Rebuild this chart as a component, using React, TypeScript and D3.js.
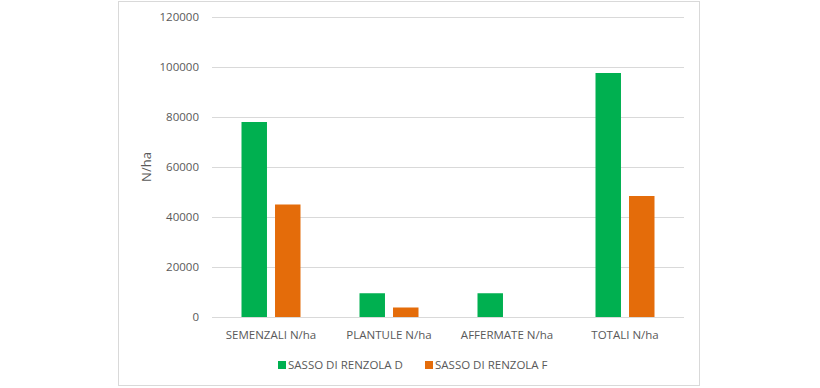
import { useEffect, useRef } from 'react';
import * as d3 from 'd3';

const categories = ['SEMENZALI N/ha', 'PLANTULE N/ha', 'AFFERMATE N/ha', 'TOTALI N/ha'];
const seriesNames = ['SASSO DI RENZOLA D', 'SASSO DI RENZOLA F'];
const seriesD = [78000, 9500, 9500, 97600];
const seriesF = [45000, 3800, 0, 48400];
const seriesColors = ['#00B050', '#E46C0A'];
const yTicks = [0, 20000, 40000, 60000, 80000, 100000, 120000];

export default function App() {
  const svgRef = useRef<SVGSVGElement>(null);

  useEffect(() => {
    if (!svgRef.current) return;
    const svg = d3.select(svgRef.current);
    svg.selectAll('*').remove();

    const width = 820;
    const height = 388;
    const font = '"Open Sans", "Noto Sans", sans-serif';
    const textColor = '#595959';

    // chart frame
    svg.append('rect')
      .attr('x', 118.5).attr('y', 1.5)
      .attr('width', 581).attr('height', 384)
      .attr('fill', '#fff').attr('stroke', '#D9D9D9');

    const plot = { left: 212, right: 684, top: 17, bottom: 317 };

    const y = d3.scaleLinear().domain([0, 120000]).range([plot.bottom, plot.top]);
    const x0 = d3.scaleBand<string>().domain(categories).range([plot.left, plot.right]).paddingInner(0).paddingOuter(0);
    const x1 = d3.scaleBand<number>().domain([0, 1]).range([0, 59]).paddingInner(0.24);

    // gridlines
    svg.append('g').selectAll('line')
      .data(yTicks)
      .enter().append('line')
      .attr('x1', plot.left).attr('x2', plot.right)
      .attr('y1', d => Math.round(y(d)) + 0.5).attr('y2', d => Math.round(y(d)) + 0.5)
      .attr('stroke', '#D9D9D9').attr('stroke-width', 1);

    // y tick labels
    svg.append('g').selectAll('text')
      .data(yTicks)
      .enter().append('text')
      .attr('x', 199).attr('y', d => y(d))
      .attr('dy', '0.35em')
      .attr('text-anchor', 'end')
      .attr('fill', textColor)
      .style('font-family', font).style('font-size', '11.5px')
      .text(d => d3.format('d')(d));

    // y axis title
    svg.append('text')
      .attr('transform', `translate(151,167) rotate(-90)`)
      .attr('text-anchor', 'middle')
      .attr('fill', textColor)
      .style('font-family', font).style('font-size', '13px')
      .text('N/ha');

    // bars
    const allSeries = [seriesD, seriesF];
    const groups = svg.append('g').selectAll('g')
      .data(categories)
      .enter().append('g')
      .attr('transform', d => `translate(${(x0(d) as number) + (x0.bandwidth() - 59) / 2},0)`);

    groups.selectAll('rect')
      .data((_, i) => allSeries.map((s, k) => ({ k, v: s[i] })))
      .enter().append('rect')
      .attr('x', d => x1(d.k) as number)
      .attr('width', x1.bandwidth())
      .attr('y', d => y(d.v))
      .attr('height', d => plot.bottom - y(d.v))
      .attr('fill', d => seriesColors[d.k]);

    // category labels
    svg.append('g').selectAll('text')
      .data(categories)
      .enter().append('text')
      .attr('x', d => (x0(d) as number) + x0.bandwidth() / 2)
      .attr('y', 335)
      .attr('dy', '0.35em')
      .attr('text-anchor', 'middle')
      .attr('fill', textColor)
      .style('font-family', font).style('font-size', '11.5px')
      .text(d => d);

    // legend
    const legendX = [278, 425];
    const legend = svg.append('g').selectAll('g')
      .data(seriesNames)
      .enter().append('g')
      .attr('transform', (_, i) => `translate(${legendX[i]},365)`);
    legend.append('rect')
      .attr('x', 0).attr('y', -4)
      .attr('width', 8).attr('height', 8)
      .attr('fill', (_, i) => seriesColors[i]);
    legend.append('text')
      .attr('x', 10).attr('y', 0)
      .attr('dy', '0.35em')
      .attr('fill', textColor)
      .style('font-family', font).style('font-size', '11.5px')
      .text(d => d);

    svg.attr('width', width).attr('height', height);
  }, []);

  return (
    <svg
      ref={svgRef}
      width={820}
      height={388}
      style={{ position: 'absolute', left: 0, top: 0, background: '#fff' }}
    />
  );
}
